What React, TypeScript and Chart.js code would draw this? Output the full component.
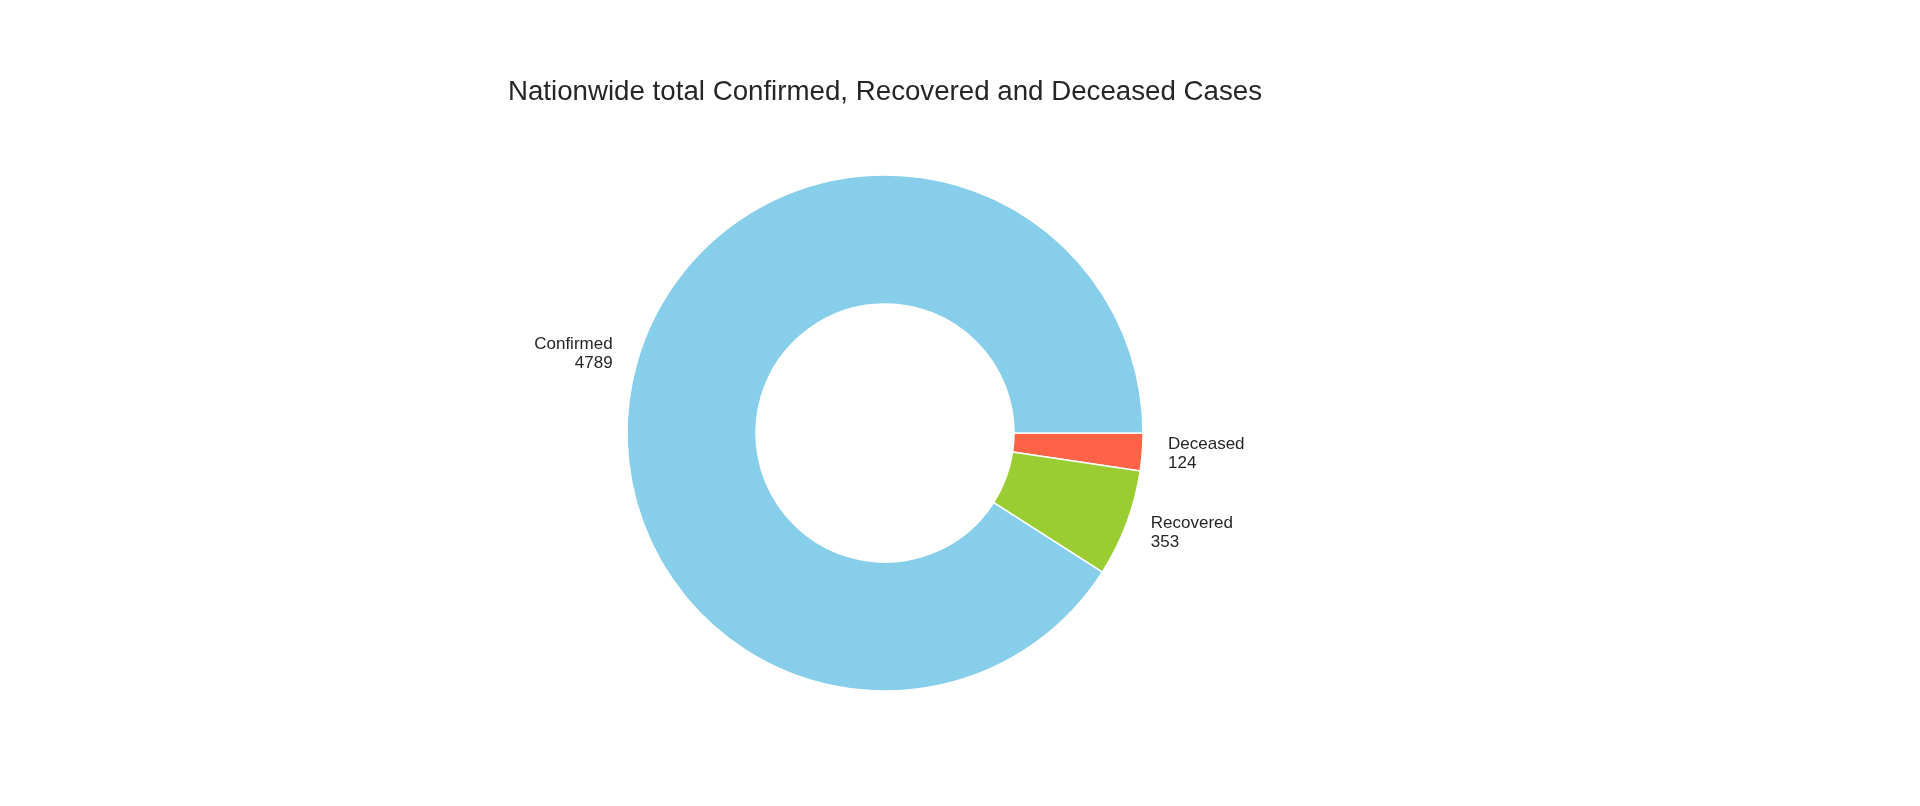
import React, { useEffect, useRef } from "react";
import { Chart, registerables } from "chart.js";

Chart.register(...registerables);

// values, in the order matplotlib drew them (counter-clockwise from 3 o'clock)
const categories = ["Confirmed", "Recovered", "Deceased"];
const caseCounts = [4789, 353, 124];
const sliceColors = ["#87CEEB", "#9ACD32", "#FF6347"];

const chartTitle = "Nationwide total Confirmed, Recovered and Deceased Cases";
const fontFamily = "'Liberation Sans', Arial, Helvetica, sans-serif";
const textColor = "#262626";

// Chart.js goes clockwise, so flip the order to get the same layout
const labels = [...categories].reverse();
const values = [...caseCounts].reverse();
const colors = [...sliceColors].reverse();

// labels outside each wedge, like matplotlib's labeldistance=1.1
const outsideLabels = {
  id: "outsideLabels",
  afterDatasetsDraw(chart: any) {
    const ctx = chart.ctx;
    const meta = chart.getDatasetMeta(0);
    ctx.save();
    ctx.font = `17px ${fontFamily}`;
    ctx.fillStyle = textColor;
    ctx.textBaseline = "middle";
    meta.data.forEach((arc: any, i: number) => {
      const { x, y, startAngle, endAngle, outerRadius } = arc.getProps(
        ["x", "y", "startAngle", "endAngle", "outerRadius"],
        true
      );
      const mid = (startAngle + endAngle) / 2;
      const r = outerRadius * 1.1;
      const px = x + Math.cos(mid) * r;
      const py = y + Math.sin(mid) * r;
      ctx.textAlign = Math.cos(mid) >= 0 ? "left" : "right";
      const lineGap = 19;
      ctx.fillText(labels[i], px, py - lineGap / 2);
      ctx.fillText(String(values[i]), px, py + lineGap / 2);
    });
    ctx.restore();
  },
};

const App = () => {
  const canvasRef = useRef<HTMLCanvasElement>(null);
  const chartRef = useRef<Chart | null>(null);

  useEffect(() => {
    document.body.style.margin = "0";
    if (!canvasRef.current) return;

    if (chartRef.current) {
      chartRef.current.destroy();
    }

    chartRef.current = new Chart(canvasRef.current, {
      type: "doughnut",
      data: {
        labels: labels,
        datasets: [
          {
            data: values,
            backgroundColor: colors,
            borderColor: "#ffffff",
            borderWidth: 1.5,
          },
        ],
      },
      options: {
        animation: false,
        responsive: true,
        maintainAspectRatio: false,
        rotation: 90,
        cutout: "50%",
        radius: 258,
        layout: {
          padding: { left: 0, right: 150, top: 0, bottom: 116 },
        },
        plugins: {
          legend: { display: false },
          tooltip: { enabled: false },
          title: {
            display: true,
            text: chartTitle,
            color: textColor,
            font: { family: fontFamily, size: 27.7, weight: "normal", lineHeight: 1.2 },
            padding: { top: 75.5, bottom: 67.26 },
          },
        },
      },
      plugins: [outsideLabels],
    });

    return () => {
      if (chartRef.current) {
        chartRef.current.destroy();
        chartRef.current = null;
      }
    };
  }, []);

  return (
    <div style={{ width: "1920px", height: "806px", background: "#ffffff" }}>
      <canvas ref={canvasRef} />
    </div>
  );
};

export default App;
